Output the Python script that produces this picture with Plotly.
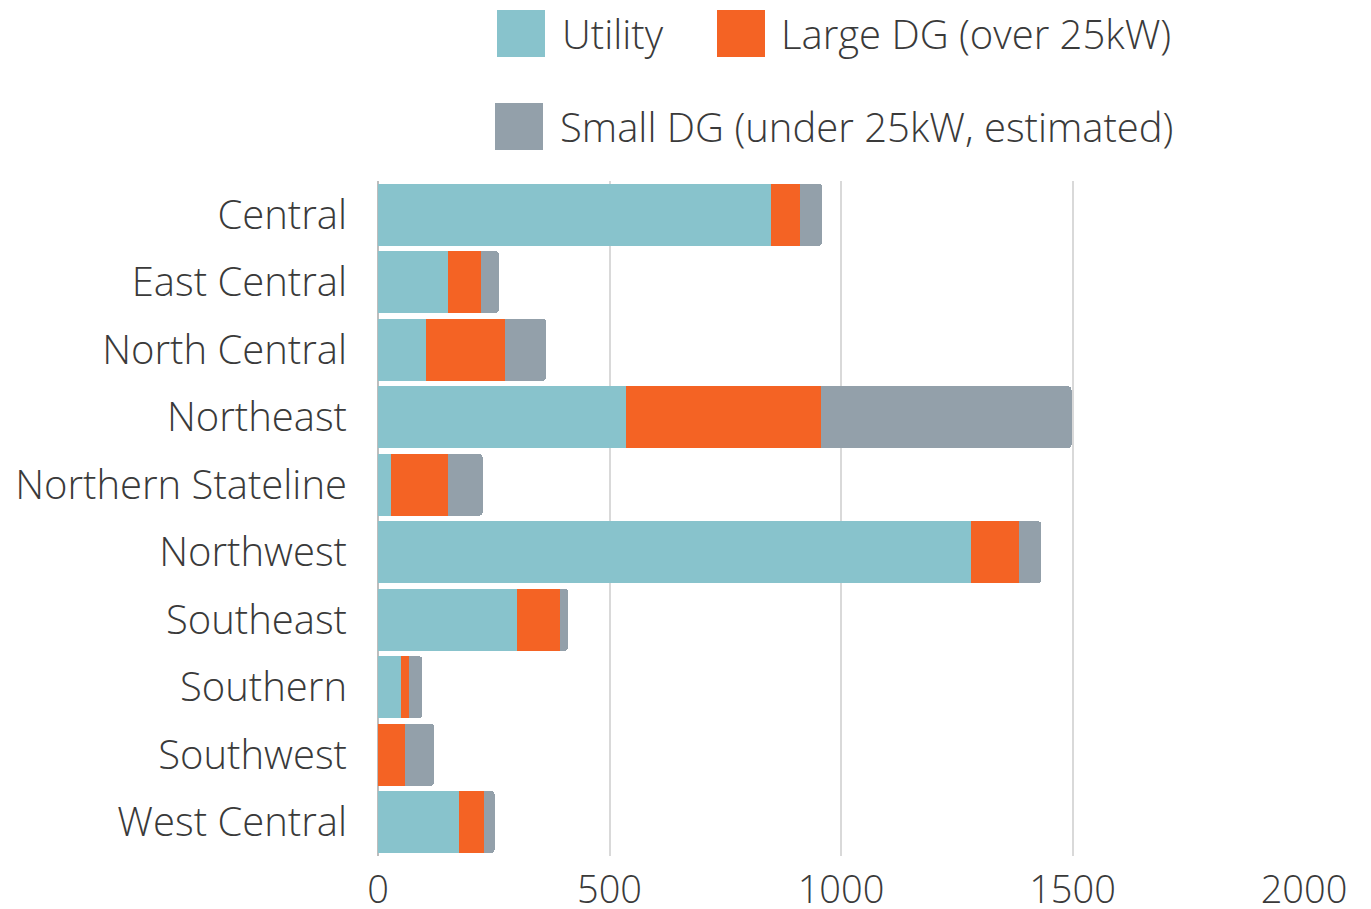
import plotly.graph_objects as go

regions = ["Central", "East Central", "North Central", "Northeast", "Northern Stateline",
           "Northwest", "Southeast", "Southern", "Southwest", "West Central"]
utility = [848, 151, 103, 535, 28, 1280, 300, 50, 0, 174]
large_dg = [63, 71, 171, 422, 124, 105, 94, 18, 58, 54]
small_dg = [48, 39, 89, 541, 74, 48, 17, 28, 63, 24]
x_ticks = [0, 500, 1000, 1500, 2000]

series_names = ["Utility", "Large DG (over 25kW)", "Small DG (under 25kW, estimated)"]
series_colors = ["#88C3CC", "#F46324", "#93A0AA"]
series_values = [utility, large_dg, small_dg]

W, H = 1371, 909
# target page-pixel plot box
PX0, PX1, PY0, PY1 = 378, 1304, 181, 856
L, R = PX0, W - PX1
T, B = PY0, H - PY1
pw, ph = W - L - R, H - T - B

FONT = "Open Sans"
TXT = "#3a3a3a"

fig = go.Figure()
for name, color, vals in zip(series_names, series_colors, series_values):
    fig.add_trace(go.Bar(
        y=regions, x=vals, name=name, orientation="h",
        marker=dict(color=color, line=dict(width=0)),
        showlegend=False,
    ))

def px2x(px):
    return (px - PX0) / pw

def py2y(py):
    return (PY1 - py) / ph

# custom legend (large swatches), page pixel coordinates
legend_items = [
    (0, 497, 10, 563),
    (1, 717, 10, 782),
    (2, 495, 103, 561),
]
shapes = []
annotations = []
for idx, sx, sy, tx in legend_items:
    shapes.append(dict(type="rect", xref="paper", yref="paper",
                       x0=px2x(sx), x1=px2x(sx + 48), y0=py2y(sy + 47), y1=py2y(sy),
                       fillcolor=series_colors[idx], line=dict(width=0)))
    annotations.append(dict(xref="paper", yref="paper", x=px2x(tx - 3), y=py2y(sy + 23),
                            xanchor="left", yanchor="middle", showarrow=False,
                            text=series_names[idx],
                            font=dict(family=FONT, size=40, color=TXT, weight=300)))

fig.update_layout(
    width=W, height=H,
    margin=dict(l=L, r=R, t=T, b=B, pad=0, autoexpand=False),
    barmode="stack",
    bargap=0.08,
    barcornerradius=4,
    plot_bgcolor="white",
    paper_bgcolor="white",
    font=dict(family=FONT, size=40, color=TXT, weight=300),
    shapes=shapes,
    annotations=annotations,
    xaxis=dict(range=[0, 2000], tickvals=x_ticks, ticktext=[str(v) for v in x_ticks],
               automargin=False,
               showgrid=True, gridcolor="#d9d9d9", gridwidth=2,
               zeroline=True, zerolinecolor="#bdbdbd", zerolinewidth=2,
               showline=False, ticks="", ticklabelstandoff=8,
               tickfont=dict(family=FONT, size=38, color=TXT, weight=300)),
    yaxis=dict(categoryorder="array", categoryarray=regions, autorange="reversed",
               automargin=False,
               showgrid=False, showline=False, ticks="", ticklabelstandoff=30,
               tickfont=dict(family=FONT, size=40, color=TXT, weight=300)),
)

fig.write_html(
    "out.html",
    config={"displayModeBar": False},
    post_script="document.body.style.margin='0';document.body.style.overflow='hidden';",
)
